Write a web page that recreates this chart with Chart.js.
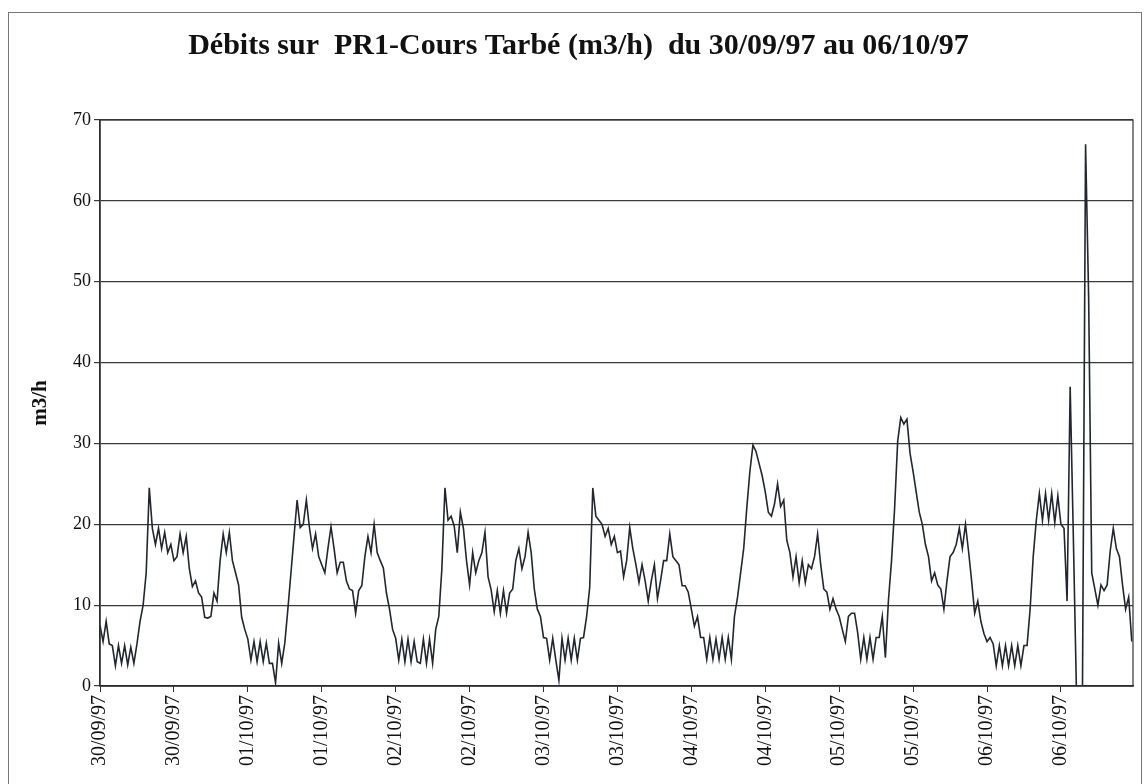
<!DOCTYPE html>
<html>
<head>
<meta charset="utf-8">
<title>Débits PR1-Cours Tarbé</title>
<script src="https://cdn.jsdelivr.net/npm/chart.js@4/dist/chart.umd.min.js"></script>
<style>
  body { margin: 0; background: #fff; }
  #wrap { position: relative; width: 1146px; height: 784px; overflow: hidden; }
  #frame { position: absolute; left: 8px; top: 12px; width: 1132px; height: 790px; border: 1px solid #777; }
  canvas { position: absolute; left: 0; top: 0; }
</style>
</head>
<body>
<div id="wrap">
  <div id="frame"></div>
  <canvas id="chart" width="1146" height="784"></canvas>
</div>
<script>
// one label per day, ticks every 12 hours
const dayLabels = ["30/09/97", "01/10/97", "02/10/97", "03/10/97", "04/10/97", "05/10/97", "06/10/97"];

// flow in m3/h, one value every half hour
const day0 = [7.5, 5.5, 8, 5.2, 5, 2.5, 5, 2.8, 5, 2.6,
              4.8, 2.8, 5.2, 8, 10, 14, 24.5, 19.5, 17.5, 19.5,
              17, 19, 16.5, 17.5, 15.5, 16, 18.8, 16.5, 18.5, 14.5,
              12.3, 13, 11.5, 11, 8.5, 8.4, 8.6, 11.5, 10.5, 15.5,
              18.8, 16.5, 19, 15.5, 14, 12.5, 8.5, 7];
const day1 = [5.8, 3.2, 5.5, 3, 5.5, 3, 5.3, 2.8, 2.8, 0.4,
              5.3, 2.8, 5.3, 9.5, 14, 18.5, 23, 19.6, 20, 23,
              19.6, 17, 18.8, 16, 15, 14, 17, 19.7, 17, 14,
              15.3, 15.3, 13, 12, 11.8, 9, 11.8, 12.4, 16, 18.5,
              16.5, 20, 16.5, 15.5, 14.6, 11.5, 9.5, 7];
const day2 = [5.9, 3.2, 5.8, 3, 5.8, 3, 5.5, 3, 2.8, 5.8,
              2.8, 5.8, 2.8, 7, 8.6, 14.5, 24.5, 20.5, 21, 19.8,
              16.5, 21.5, 19.5, 15.5, 12.5, 16.5, 14, 15.5, 16.5, 19,
              13.5, 11.9, 9.2, 11.8, 9, 11.8, 9, 11.5, 12, 15.5,
              17, 14.5, 16, 19, 16.5, 12, 9.5, 8.6];
const day3 = [6, 5.9, 3.2, 5.9, 3.2, 0.7, 5.9, 3.2, 5.9, 3.2,
              5.9, 3.2, 5.9, 6, 8.6, 12.2, 24.5, 21, 20.5, 20,
              18.5, 19.5, 17.5, 18.5, 16.5, 16.7, 13.5, 15.5, 19.6, 17,
              15, 12.8, 15, 13, 10.5, 13, 15, 10.8, 13, 15.5,
              15.5, 18.8, 16, 15.5, 15, 12.4, 12.4, 11.6];
const day4 = [9.5, 7.4, 8.6, 6, 6, 3.3, 6, 3.3, 5.8, 3.3,
              6, 3.3, 6, 3.3, 8.6, 11, 14, 17, 22, 26.5,
              29.8, 29, 27.5, 26, 24, 21.5, 21, 22.5, 25, 22.2,
              23, 18, 16.5, 13.5, 16, 12.8, 15.5, 12.8, 15, 14.5,
              16, 18.8, 15, 12, 11.6, 9.5, 10.8, 9.5];
const day5 = [8.6, 7, 5.5, 8.6, 9, 9, 6.6, 3.3, 6, 3.3,
              6, 3.3, 6, 6, 8.6, 3.5, 10.6, 15.5, 22, 30.3,
              33.2, 32.4, 33, 28.8, 26.5, 24, 21.5, 20, 17.5, 16,
              13, 14, 12.5, 12, 9.5, 13, 16, 16.5, 17.5, 19.5,
              17, 20, 16.7, 13, 9, 10.5, 8, 6.5];
const day6 = [5.5, 6, 5.2, 2.5, 5, 2.5, 5, 2.5, 5, 2.5,
              5, 2.5, 5, 5, 9.5, 16, 20.5, 23.8, 20.5, 23.8,
              20.5, 23.8, 20.2, 23.5, 20, 19.5, 10.5, 37, 19, 0,
              0, 0, 67, 48, 14, 12, 10, 12.5, 11.8, 12.5,
              16.7, 19.5, 17, 16, 12.5, 9.5, 11, 5.5];

const days = [day0, day1, day2, day3, day4, day5, day6];
const points = [];
days.forEach((vals, d) => {
    vals.forEach((v, k) => points.push({ x: d * 24 + k / 2, y: v }));
});

const serif = "'Liberation Serif', 'Times New Roman', serif";

// outline of the plot area (top and right edges)
const plotFrame = {
    id: "plotFrame",
    afterDraw(chart) {
        const a = chart.chartArea;
        const c = chart.ctx;
        c.save();
        c.strokeStyle = "#333";
        c.lineWidth = 1.2;
        c.strokeRect(a.left, a.top, a.right - a.left, a.bottom - a.top);
        c.restore();
    }
};

const ctx = document.getElementById("chart").getContext("2d");
const flowChart = new Chart(ctx, {
    type: "line",
    data: {
        datasets: [{
            data: points,
            borderColor: "#22262e",
            borderWidth: 1.6,
            pointRadius: 0,
            tension: 0
        }]
    },
    options: {
        responsive: false,
        animation: false,
        layout: { padding: { left: 24, right: 13, top: 0, bottom: 0 } },
        plugins: {
            legend: { display: false },
            tooltip: { enabled: false },
            title: {
                display: true,
                text: "Débits sur  PR1-Cours Tarbé (m3/h)  du 30/09/97 au 06/10/97",
                color: "#111",
                font: { family: serif, size: 30, weight: "bold" },
                padding: { top: 28, bottom: 56 }
            }
        },
        scales: {
            x: {
                type: "linear",
                min: 0,
                max: 167.7,
                afterFit: (s) => { s.height = 98; },
                ticks: {
                    stepSize: 12,
                    includeBounds: false,
                    autoSkip: false,
                    minRotation: 90,
                    maxRotation: 90,
                    color: "#111",
                    font: { family: serif, size: 20 },
                    callback: (v) => dayLabels[Math.floor(v / 24)]
                },
                grid: { drawOnChartArea: false, tickLength: 6, color: "#333" },
                border: { color: "#222", width: 1.5 }
            },
            y: {
                min: 0,
                max: 70,
                afterFit: (s) => { s.width = 76; },
                ticks: { stepSize: 10, color: "#111", font: { family: serif, size: 18 } },
                grid: { color: "#3a3a3a", lineWidth: 1.2, tickLength: 6 },
                border: { color: "#222", width: 1.5 },
                title: {
                    display: true,
                    text: "m3/h",
                    color: "#111",
                    font: { family: serif, size: 21, weight: "bold" }
                }
            }
        }
    },
    plugins: [plotFrame]
});
</script>
</body>
</html>
